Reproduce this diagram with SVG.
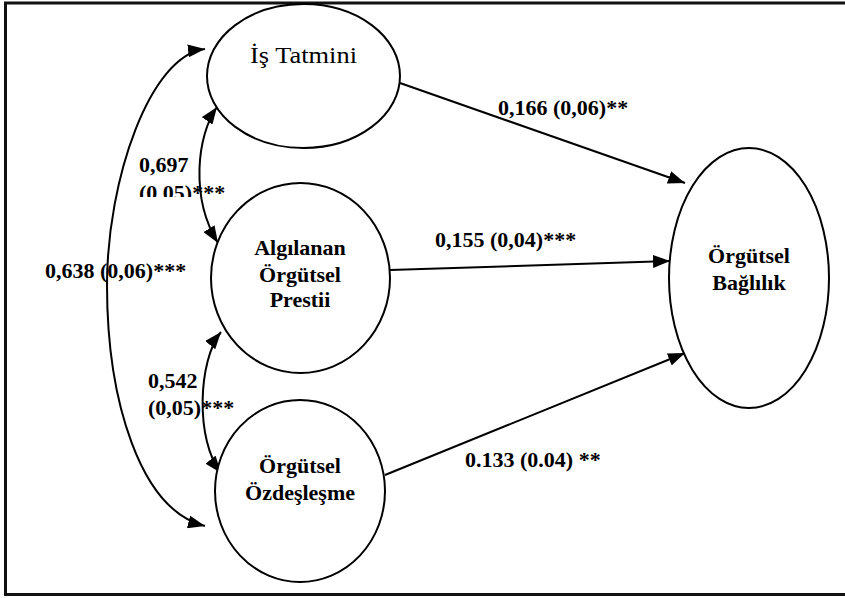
<svg xmlns="http://www.w3.org/2000/svg" width="845" height="598" viewBox="0 0 845 598">
<style>
.node{fill:#fff;stroke:#000;stroke-width:2}
.lbl{font-family:"Liberation Serif",serif;font-weight:bold;font-size:22px;fill:#000}
.nlbl{font-family:"Liberation Serif",serif;font-weight:bold;font-size:22px;fill:#000;text-anchor:middle}
.con{fill:none;stroke:#000;stroke-width:2}
</style>
<defs>
<marker id="ah" markerUnits="userSpaceOnUse" markerWidth="17" markerHeight="13" refX="17" refY="6.5" orient="auto-start-reverse" viewBox="0 0 17 13">
<path d="M0,0 L17,6.5 L0,13 z" fill="#000"/>
</marker>
<clipPath id="clipTop"><rect x="0" y="0" width="845" height="197"/></clipPath>
</defs>
<rect width="845" height="598" fill="#fff"/>
<path d="M845 3 H5.5 V594.5 H845" fill="none" stroke="#111" stroke-width="3"/>

<g id="connectors">
<path class="con" d="M400 83 L685 183" marker-end="url(#ah)"/>
<path class="con" d="M390 270 L670 261" marker-end="url(#ah)"/>
<path class="con" d="M385 475 L685 353" marker-end="url(#ah)"/>
<path class="con" d="M205 49 C150 55 107 180 107 285 C107 400 140 510 205 526" marker-start="url(#ah)" marker-end="url(#ah)"/>
<path class="con" d="M217 107 C197 135 190 198 218 243" marker-start="url(#ah)" marker-end="url(#ah)"/>
<path class="con" d="M221 332 C198 360 195 440 221 473" marker-start="url(#ah)" marker-end="url(#ah)"/>
</g>

<g id="node-is-tatmini">
<ellipse class="node" cx="303.5" cy="76" rx="96.5" ry="72"/>
<text x="303.5" y="63" text-anchor="middle" font-family="Liberation Serif, serif" font-size="23" textLength="107" lengthAdjust="spacingAndGlyphs">İş Tatmini</text>
</g>

<g id="node-prestij">
<ellipse class="node" cx="300.5" cy="278" rx="89.5" ry="95"/>
<text class="nlbl" x="300" y="255">Algılanan</text>
<text class="nlbl" x="300" y="282">Örgütsel</text>
<text class="nlbl" x="300" y="307">Prestii</text>
</g>

<g id="node-ozdeslesme">
<ellipse class="node" cx="300" cy="491" rx="85" ry="91"/>
<text class="nlbl" x="300" y="473">Örgütsel</text>
<text class="nlbl" x="300" y="500">Özdeşleşme</text>
</g>

<g id="node-baglilik">
<ellipse class="node" cx="749" cy="278" rx="80" ry="130"/>
<text class="nlbl" x="749" y="263">Örgütsel</text>
<text class="nlbl" x="749" y="290">Bağlılık</text>
</g>

<g id="labels">
<text class="lbl" x="498" y="115">0,166 (0,06)**</text>
<text class="lbl" x="435" y="247">0,155 (0,04)***</text>
<text class="lbl" x="465" y="467">0.133 (0.04) **</text>
<text class="lbl" x="45" y="278">0,638 (0,06)***</text>
<text class="lbl" x="139" y="172">0,697</text>
<text class="lbl" x="139" y="200" clip-path="url(#clipTop)">(0,05)***</text>
<text class="lbl" x="148" y="388">0,542</text>
<text class="lbl" x="148" y="415">(0,05)***</text>
</g>
</svg>
